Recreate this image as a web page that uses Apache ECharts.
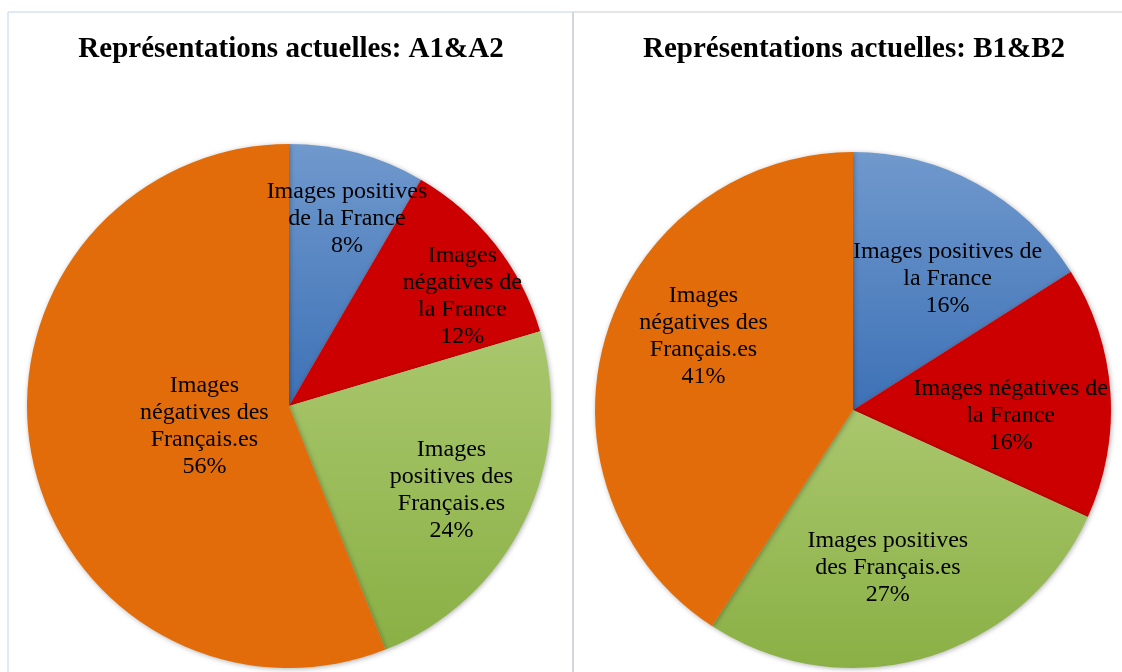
<!DOCTYPE html>
<html>
<head>
<meta charset="utf-8">
<script src="https://cdn.jsdelivr.net/npm/echarts@6/dist/echarts.min.js"></script>
<style>
    html, body { margin: 0; padding: 0; background: #fff; }
    #chart { width: 1122px; height: 672px; }
</style>
</head>
<body>
<div id="chart"></div>
<script>
// categories (line breaks as in the original labels)
const namesA = ['Images positives\nde la France', 'Images\nnégatives de\nla France', 'Images\npositives des\nFrançais.es', 'Images\nnégatives des\nFrançais.es'];
const namesB = ['Images positives de\nla France', 'Images négatives de\nla France', 'Images positives\ndes Français.es', 'Images\nnégatives des\nFrançais.es'];
// shares (%)
const valuesA = [8.4, 12, 23.6, 56];
const valuesB = [16, 15.8, 27.4, 40.8];
const titles = ['Représentations actuelles: A1&A2', 'Représentations actuelles: B1&B2'];

const grad = (top, bottom) => ({
    type: 'linear', x: 0, y: 0, x2: 0, y2: 1,
    colorStops: [{ offset: 0, color: top }, { offset: 1, color: bottom }]
});
const colors = [
    grad('#7099cd', '#3d71b6'),
    '#cc0000',
    grad('#a9c76d', '#8ab045'),
    '#e36c0a'
];
// where each label sits relative to the middle of the ring
const offsetsA = [[23, -58], [68, -27], [42, 26], [47, -5]];
const offsetsB = [[31, -16], [26, 15], [-2, 31], [-23, -36]];

const chart = echarts.init(document.getElementById('chart'));

function pie(names, values, offsets, center, radius) {
    return {
        type: 'pie',
        center: center,
        radius: radius,
        startAngle: 90,
        clockwise: true,
        avoidLabelOverlap: false,
        percentPrecision: 0,
        silent: true,
        labelLayout: { hideOverlap: false },
        itemStyle: {
            borderWidth: 0,
            shadowBlur: 5,
            shadowColor: 'rgba(0,0,0,0.3)',
            shadowOffsetX: 1,
            shadowOffsetY: 1
        },
        label: {
            show: true,
            position: 'inside',
            formatter: '{b}\n{d}%',
            fontFamily: 'Liberation Serif',
            fontSize: 24,
            lineHeight: 27,
            color: '#000',
            align: 'center',
            overflow: 'none'
        },
        labelLine: { show: false },
        data: values.map((v, i) => ({
            name: names[i],
            value: v,
            itemStyle: { color: colors[i] },
            label: { offset: offsets[i] }
        }))
    };
}

const option = {
    animation: false,
    title: titles.map((t, i) => ({
        text: t,
        left: i === 0 ? 286 : 849,
        top: 30,
        textAlign: 'center',
        textStyle: {
            fontFamily: 'Liberation Serif',
            fontWeight: 'bold',
            fontSize: 29,
            color: '#000'
        }
    })),
    graphic: [
        { type: 'line', shape: { x1: 8, y1: 12, x2: 573, y2: 12 }, style: { stroke: '#d5e3f1', lineWidth: 1.5 } },
        { type: 'line', shape: { x1: 573, y1: 12, x2: 1122, y2: 12 }, style: { stroke: '#dcdcdc', lineWidth: 1.5 } },
        { type: 'line', shape: { x1: 8, y1: 12, x2: 8, y2: 672 }, style: { stroke: '#d5e3f1', lineWidth: 1.5 } },
        { type: 'line', shape: { x1: 573, y1: 12, x2: 573, y2: 672 }, style: { stroke: '#d3d6db', lineWidth: 2 } }
    ],
    series: [
        pie(namesA, valuesA, offsetsA, [289, 406], 262),
        pie(namesB, valuesB, offsetsB, [853, 410], 258)
    ]
};
chart.setOption(option);
</script>
</body>
</html>
